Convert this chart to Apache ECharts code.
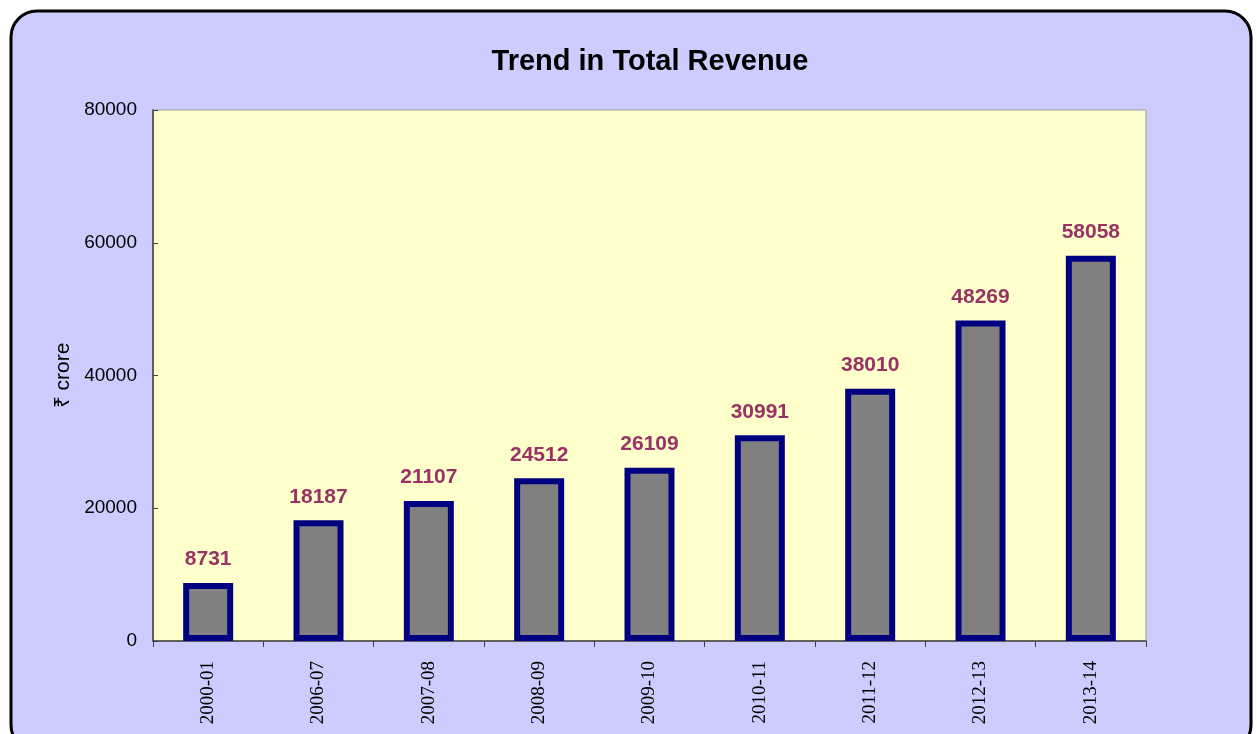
<!DOCTYPE html>
<html>
<head>
<meta charset="utf-8">
<script src="https://cdn.jsdelivr.net/npm/echarts@6/dist/echarts.min.js"></script>
<style>
  html, body { margin: 0; padding: 0; background: #fff; }
  #chart { width: 1257px; height: 734px; }
</style>
</head>
<body>
<div id="chart"></div>
<script>
    // Total revenue by year (₹ crore)
    const years = ["2000-01", "2006-07", "2007-08", "2008-09", "2009-10", "2010-11", "2011-12", "2012-13", "2013-14"];
    const revenue = [8731, 18187, 21107, 24512, 26109, 30991, 38010, 48269, 58058];
    const yTicks = [0, 20000, 40000, 60000, 80000];

    const chart = echarts.init(document.getElementById("chart"));
    chart.setOption({
        animation: false,
        backgroundColor: "#ffffff",
        graphic: [
            {
                type: "rect",
                z: -10,
                shape: { x: 11, y: 11, width: 1240, height: 740, r: 26 },
                style: { fill: "#CCCCFF", stroke: "#000000", lineWidth: 3 },
            },
        ],
        title: {
            text: "Trend in Total Revenue",
            left: 645,
            top: 42,
            textAlign: "center",
            textStyle: { fontFamily: "Liberation Sans", fontSize: 29, fontWeight: "bold", color: "#000" },
        },
        grid: {
            left: 153,
            right: 111,
            top: 110,
            bottom: 93,
            show: true,
            backgroundColor: "#FFFFCC",
            borderColor: "#999999",
            borderWidth: 1,
        },
        xAxis: {
            type: "category",
            data: years,
            axisLine: { lineStyle: { color: "#404040", width: 1.5 } },
            axisTick: { show: true, length: 6, lineStyle: { color: "#404040" } },
            axisLabel: {
                rotate: 90,
                margin: 20,
                fontFamily: "Liberation Serif",
                fontSize: 19,
                color: "#000",
            },
        },
        yAxis: {
            type: "value",
            min: yTicks[0],
            max: yTicks[yTicks.length - 1],
            interval: 20000,
            name: "₹ crore",
            nameLocation: "middle",
            nameGap: 77,
            nameTextStyle: { fontFamily: "Liberation Sans", fontSize: 21, color: "#000" },
            axisLine: { show: true, lineStyle: { color: "#404040", width: 1.5 } },
            axisTick: { show: true, inside: true, length: 5, lineStyle: { color: "#404040" } },
            splitLine: { show: false },
            axisLabel: {
                margin: 16,
                fontFamily: "Liberation Sans",
                fontSize: 19,
                color: "#000",
                formatter: (v) => String(v),
            },
        },
        series: [
            {
                type: "bar",
                data: revenue,
                barWidth: 50,
                itemStyle: { color: "#808080", borderColor: "#000080", borderWidth: 6 },
                label: {
                    show: true,
                    position: "top",
                    distance: 13,
                    fontFamily: "Liberation Sans",
                    fontSize: 21,
                    fontWeight: "bold",
                    color: "#993366",
                },
            },
        ],
    });
</script>
</body>
</html>
